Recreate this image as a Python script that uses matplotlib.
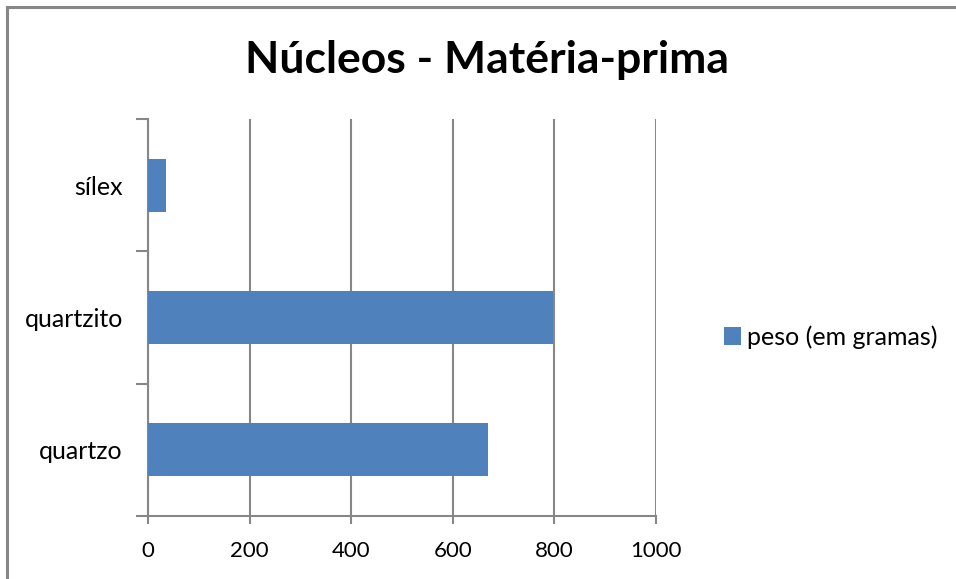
import matplotlib
matplotlib.use("Agg")
import matplotlib.pyplot as plt
from matplotlib.lines import Line2D

plt.rcParams["font.family"] = ["Lato", "DejaVu Sans"]

CATEGORIES = ["quartzo", "quartzito", "sílex"]
PESO = [669, 797, 36]
SERIES = "peso (em gramas)"
XTICKS = [0, 200, 400, 600, 800, 1000]

BAR = "#4F81BD"
GRID = "#878787"

W, H = 956, 579
fig = plt.figure(figsize=(W / 100, H / 100), dpi=100)
ax = fig.add_axes([148 / W, 1 - 516 / H, 508 / W, 397 / H])

ypos = list(range(len(CATEGORIES)))
ax.barh(ypos, PESO, height=0.4, color=BAR, label=SERIES, zorder=3)

ax.set_xlim(0, 1000)
ax.set_ylim(-0.5, len(CATEGORIES) - 0.5)

# vertical gridlines at every major x tick
ax.set_xticks(XTICKS)
ax.set_xticklabels([str(t) for t in XTICKS], fontsize=16)
ax.xaxis.grid(True, color=GRID, linewidth=1.5, zorder=0)
ax.tick_params(axis="x", direction="out", length=6, width=1.5, color=GRID, pad=12)

# category separators as major ticks, names as minor ticks
ax.set_yticks([y - 0.5 for y in range(len(CATEGORIES) + 1)])
ax.set_yticklabels([])
ax.set_yticks(ypos, minor=True)
ax.set_yticklabels(CATEGORIES, minor=True, fontsize=18)
ax.tick_params(axis="y", which="major", direction="out", length=9, width=1.5, color=GRID)
ax.tick_params(axis="y", which="minor", length=0, pad=18)

for side in ("top", "right"):
    ax.spines[side].set_visible(False)
for side in ("left", "bottom"):
    ax.spines[side].set_color(GRID)
    ax.spines[side].set_linewidth(1.5)

fig.text(487 / W, 1 - 60 / H, "Núcleos - Matéria-prima", fontsize=32,
         fontweight="bold", ha="center", va="center")

ax.legend(loc="center left", bbox_to_anchor=(701 / W, 1 - 337 / H),
          bbox_transform=fig.transFigure, frameon=False, fontsize=18,
          handlelength=0.7, handleheight=0.7, handletextpad=0.25)

# chart-area border, only left and top edges fall inside the image
x0, y0 = 6.5 / W, 1 - 6.5 / H
fig.add_artist(Line2D([x0, x0], [0, y0], color=GRID, linewidth=2.2,
                      transform=fig.transFigure, solid_capstyle="projecting"))
fig.add_artist(Line2D([x0, 1], [y0, y0], color=GRID, linewidth=2.2,
                      transform=fig.transFigure, solid_capstyle="projecting"))

fig.savefig("out.png", dpi=100, facecolor="white")
